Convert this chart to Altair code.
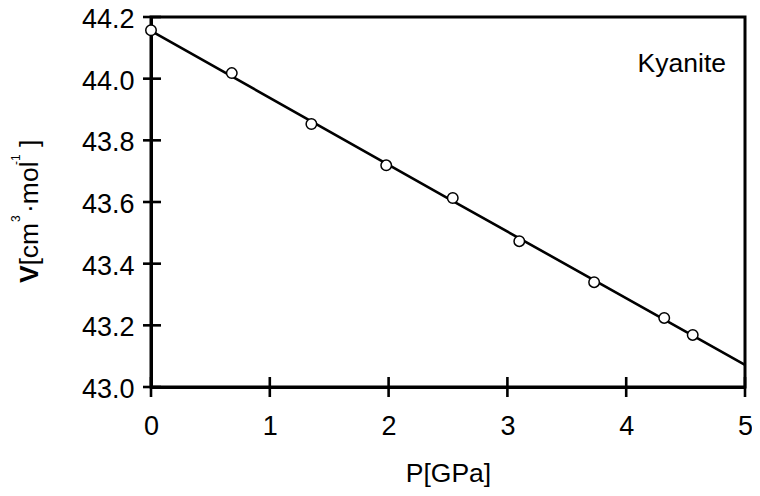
import altair as alt
import pandas as pd

# data
P = [0.0, 0.68, 1.35, 1.98, 2.54, 3.10, 3.73, 4.32, 4.56]
V = [44.157, 44.018, 43.853, 43.719, 43.613, 43.473, 43.340, 43.224, 43.169]
fit_P = [0.0, 2.5, 5.0]
fit_V = [44.155, 43.612, 43.072]
x_ticks = [0, 1, 2, 3, 4, 5]
y_ticks = [43.0, 43.2, 43.4, 43.6, 43.8, 44.0, 44.2]
label_text = "Kyanite"
x_title = "P[GPa]"
y_title_parts = ["V", "[cm", "3", "\u00b7mol", "-1", "]"]

FONT = "Liberation Sans"
FS = 26.5
LFS = 27
W, H = 594, 370

pts = pd.DataFrame({"P": P, "V": V})
fit = pd.DataFrame({"P": fit_P, "V": fit_V})
xt = pd.DataFrame({"P": x_ticks})
yt = pd.DataFrame({"V": y_ticks})

xscale = alt.Scale(domain=[0, 5], nice=False, zero=False)
yscale = alt.Scale(domain=[43.0, 44.2], nice=False, zero=False)

xaxis = alt.Axis(values=x_ticks, format="d", grid=False, ticks=False, tickSize=0,
                 domainColor="black", domainWidth=3, labelFont=FONT, labelFontSize=LFS,
                 labelColor="black", labelPadding=26, labelFlush=False,
                 title=x_title, titleFont=FONT, titleFontSize=FS, titleFontWeight="normal",
                 titleColor="black", titlePadding=21)
yaxis = alt.Axis(values=y_ticks, format=".1f", grid=False, ticks=False, tickSize=0,
                 domainColor="black", domainWidth=3, labelFont=FONT, labelFontSize=LFS,
                 labelColor="black", labelPadding=17, labelFlush=False,
                 labelBaseline="alphabetic", labelOffset=10.5, title=None)

X = alt.X("P:Q", scale=xscale, axis=xaxis)
Y = alt.Y("V:Q", scale=yscale, axis=yaxis)

line = alt.Chart(fit).mark_line(color="black", strokeWidth=2.6).encode(x=X, y=Y)
points = alt.Chart(pts).mark_point(shape="circle", filled=True, fill="white", stroke="black",
                                   strokeWidth=1.5, size=110, opacity=1).encode(x=X, y=Y)
yticks = alt.Chart(yt).mark_rule(color="black", strokeWidth=2.6).encode(
    y=Y, x=alt.value(-8), x2=alt.value(10))
xticks = alt.Chart(xt).mark_rule(color="black", strokeWidth=2.6).encode(
    x=X, y=alt.value(H - 10), y2=alt.value(H + 10))

ox, oy = 151, 17
kyan = alt.Chart(pd.DataFrame({"t": [label_text]})).mark_text(
    font=FONT, fontSize=FS, align="right", baseline="alphabetic", color="black"
).encode(text="t:N", x=alt.value(726 - ox), y=alt.value(72 - oy))

# rotated y-axis title built from pieces (page coords -> plot coords)
starts = [283, 265.5, 222, 213, 165, 147]
bases = [38, 38, 20, 38, 20, 38]
sizes = [FS, FS, 12, FS, 12, FS]
weights = ["bold", "normal", "normal", "normal", "normal", "normal"]
title_layers = []
for txt, s, b, fs, wgt in zip(y_title_parts, starts, bases, sizes, weights):
    title_layers.append(
        alt.Chart(pd.DataFrame({"t": [txt]})).mark_text(
            font=FONT, fontSize=fs, fontWeight=wgt, angle=270, align="left",
            baseline="alphabetic", color="black"
        ).encode(text="t:N", x=alt.value(b - ox), y=alt.value(s - oy))
    )

chart = alt.layer(line, yticks, xticks, points, kyan, *title_layers).properties(
    width=W, height=H,
    autosize=alt.AutoSizeParams(type="none"),
    padding={"left": ox - 8, "top": oy - 8, "right": 744 - (ox - 8) - W, "bottom": 480 - (oy - 8) - H},
).configure_view(stroke="black", strokeWidth=3)

chart.save("out.html", embed_options={"renderer": "svg", "actions": False})
